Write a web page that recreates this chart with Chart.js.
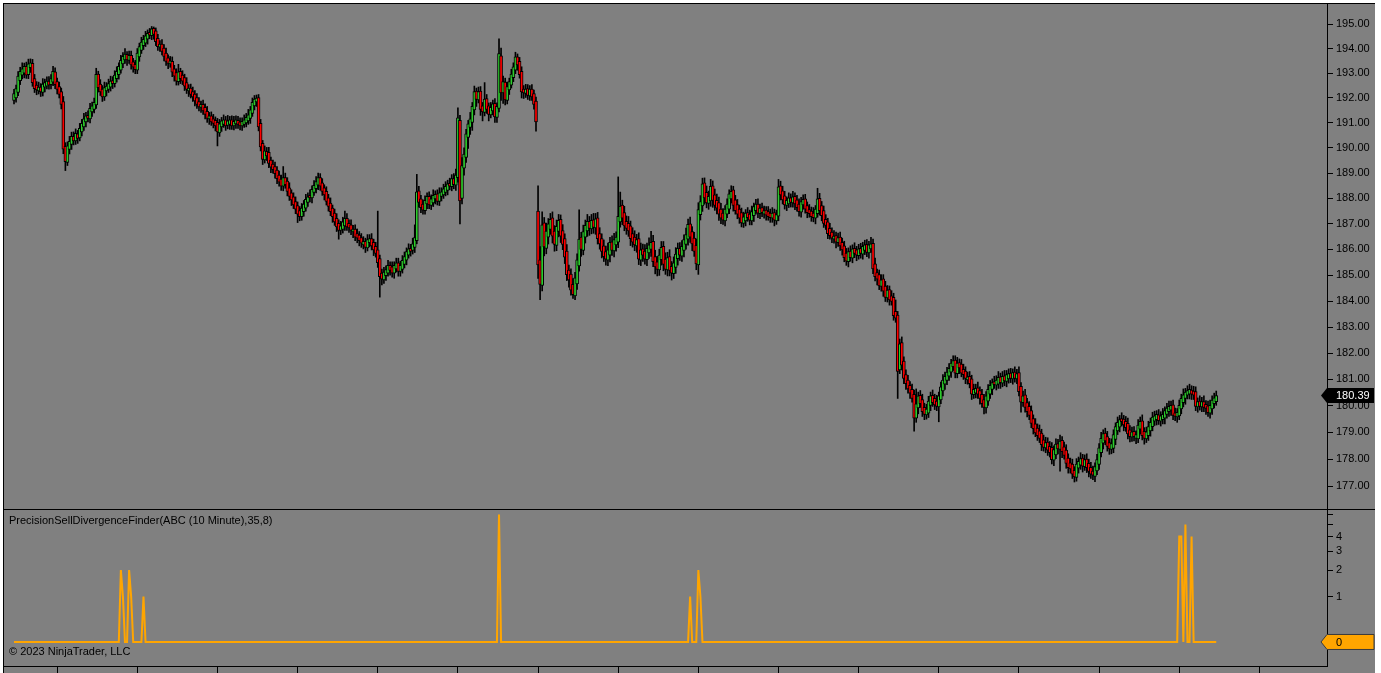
<!DOCTYPE html>
<html>
<head>
<meta charset="utf-8">
<title>ABC (10 Minute)</title>
<script src="https://cdn.jsdelivr.net/npm/chart.js@4.4.1/dist/chart.umd.min.js"></script>
<style>
  body { margin: 0; background: #fff; }
  #frame { position: absolute; left: 3px; top: 3px; width: 1372px; height: 670px; background: #808080;
           border-left: 1px solid #000; border-top: 1px solid #000; box-sizing: border-box; }
  #split { position: absolute; left: 3px; top: 509px; width: 1372px; height: 1px; background: #000; }
  canvas { position: absolute; left: 0; }
  #price { top: 0; }
  #ind { top: 509px; }
</style>
</head>
<body>
<div id="frame"></div>
<div id="split"></div>
<canvas id="price" width="1381" height="510"></canvas>
<canvas id="ind" width="1381" height="164"></canvas>
<script>
// ABC 10 minute bars (bar 255 opens the gap down)
const opens = [
  191.90,192.00,192.22,192.70,192.92,193.00,193.28,192.94,193.22,193.40,
  192.78,192.52,192.28,192.44,192.22,192.44,192.48,192.68,192.54,192.64,
  193.06,192.66,192.46,192.26,191.86,190.06,189.42,189.94,190.14,190.46,
  190.28,190.56,190.40,190.64,190.84,191.04,191.30,191.16,191.44,191.54,
  191.72,192.96,192.56,192.36,192.04,192.28,192.34,192.44,192.70,192.58,
  192.78,192.94,193.12,193.38,193.54,193.76,193.52,193.72,193.46,193.36,
  193.12,193.66,193.92,194.12,194.22,194.38,194.66,194.52,194.82,194.72,
  194.42,194.06,194.18,194.02,193.82,193.62,193.38,193.48,193.18,193.02,
  192.66,193.08,192.92,192.82,192.62,192.28,192.40,192.26,192.16,192.02,
  191.86,191.62,191.74,191.62,191.46,191.16,191.28,191.16,191.10,191.02,
  190.60,190.84,190.94,191.12,190.90,190.94,191.12,190.88,190.96,191.10,
  191.04,190.88,190.94,191.00,191.08,191.18,191.38,191.68,191.84,192.02,
  190.98,190.18,189.52,189.86,189.82,189.52,189.36,189.26,189.12,188.92,
  188.76,188.48,188.82,188.68,188.42,188.22,188.06,187.88,187.72,187.52,
  187.28,187.48,187.62,187.84,188.12,188.02,188.24,188.38,188.52,188.82,
  188.62,188.42,188.28,188.02,187.82,187.62,187.42,187.22,187.02,186.74,
  186.78,186.92,187.22,187.02,186.96,186.68,186.80,186.62,186.56,186.46,
  186.18,186.32,186.06,186.26,186.42,186.28,186.12,185.98,185.64,185.08,
  184.82,184.98,185.08,185.38,185.32,185.08,185.24,185.48,185.14,185.22,
  185.42,185.58,185.78,186.04,185.96,186.08,186.34,188.30,187.98,187.78,
  187.52,187.78,188.08,187.72,187.82,187.98,188.18,187.88,188.08,188.14,
  188.24,188.32,188.60,188.46,188.78,188.52,188.82,191.10,188.00,189.20,
  189.62,190.42,190.82,191.02,191.52,192.28,191.92,192.28,191.68,191.42,
  191.98,191.68,191.32,191.48,191.78,191.22,191.58,193.70,192.20,192.64,
  191.90,192.32,192.52,192.82,193.12,193.66,193.48,193.08,192.36,192.18,
  192.38,192.08,192.36,192.18,191.88,
  187.50,185.60,184.60,187.04,186.04,186.48,186.78,187.24,186.72,186.16,
  186.70,187.18,186.74,186.42,185.94,185.20,185.04,184.64,184.20,184.66,
  185.36,186.48,185.96,186.48,186.72,187.10,186.80,187.16,186.84,187.24,
  186.62,186.42,186.14,185.92,185.58,185.78,186.30,185.94,186.18,186.28,
  187.08,187.74,187.44,187.10,187.02,186.92,186.62,186.48,186.14,186.42,
  185.58,186.02,185.94,185.60,185.86,186.00,186.32,185.72,185.52,185.20,
  185.60,186.12,185.62,185.20,185.72,185.34,185.06,185.30,185.64,186.04,
  185.74,185.96,186.20,186.40,187.00,186.70,186.44,186.16,185.40,187.36,
  187.70,188.62,188.24,187.80,187.90,188.50,188.14,187.92,187.84,187.58,
  187.42,187.12,187.38,187.58,187.98,188.34,187.94,187.76,187.58,187.44,
  187.02,187.12,187.44,187.38,187.12,187.32,187.52,187.78,187.40,187.64,
  187.38,187.54,187.48,187.42,187.22,187.44,187.12,187.30,188.50,188.30,
  188.10,187.72,187.78,188.02,187.82,188.08,187.94,187.78,187.46,187.74,
  187.98,187.72,187.56,187.50,187.42,187.22,187.40,188.00,187.72,187.52,
  187.18,187.08,186.82,186.68,186.40,186.54,186.26,186.48,186.28,186.14,
  185.86,185.52,185.94,185.66,186.04,185.98,185.76,186.04,185.82,185.96,
  186.20,185.86,186.02,186.24,185.44,185.10,185.02,184.56,184.86,184.58,
  184.12,184.44,184.20,184.14,183.60,183.46,181.36,182.40,181.70,181.18,
  180.98,180.78,180.62,180.44,179.54,179.92,180.40,180.24,179.94,179.66,
  179.72,180.02,180.40,180.28,180.18,179.96,180.22,180.56,180.82,180.96,
  181.12,181.28,181.48,181.74,181.22,181.64,181.58,181.38,181.32,180.98,
  181.12,181.02,180.42,180.48,180.68,180.58,180.44,180.24,179.92,180.18,
  180.44,180.62,180.92,180.78,180.82,181.10,180.86,181.14,180.92,181.02,
  181.24,181.02,181.28,181.02,181.26,180.74,180.12,180.42,180.12,179.98,
  179.82,179.52,179.32,179.16,179.06,178.98,178.72,178.42,178.64,178.48,
  178.44,177.96,178.16,178.58,178.36,178.70,178.46,178.34,178.04,177.86,
  177.82,177.58,177.32,177.66,177.78,178.04,177.72,178.00,177.84,177.70,
  177.56,177.36,177.56,177.80,178.24,178.60,178.98,178.84,178.62,178.36,
  178.40,178.74,179.06,179.20,179.52,179.50,179.42,179.34,179.10,178.82,
  179.04,178.78,178.76,179.12,179.44,179.04,178.76,178.88,179.06,179.22,
  179.42,179.48,179.66,179.42,179.48,179.54,179.68,179.78,179.84,180.04,
  179.74,179.58,179.62,179.88,180.12,180.28,180.40,180.44,180.60,180.56,
  180.54,179.96,180.18,179.96,180.16,180.06,180.00,179.72,179.88,180.08,180.16
];
const highs = [
  192.35,192.52,193.07,193.24,193.42,193.41,193.45,193.57,193.58,193.56,
  192.95,192.66,192.64,192.58,192.78,192.76,192.85,192.86,192.94,193.28,
  193.22,192.80,192.64,192.40,192.06,190.21,190.24,190.46,190.63,190.64,
  190.76,190.70,190.98,191.14,191.38,191.42,191.48,191.78,191.84,192.00,
  193.20,193.08,192.74,192.50,192.64,192.62,192.76,192.88,192.86,193.10,
  193.26,193.42,193.72,193.84,194.00,193.88,193.90,193.90,193.60,193.52,
  194.00,194.22,194.46,194.54,194.70,194.76,194.82,194.90,194.88,194.84,
  194.58,194.32,194.36,194.16,194.02,193.74,193.68,193.66,193.32,193.18,
  193.36,193.20,193.10,192.96,192.82,192.54,192.56,192.44,192.30,192.18,
  192.02,191.88,191.92,191.76,191.66,191.42,191.44,191.34,191.24,191.18,
  191.14,191.22,191.32,191.26,191.30,191.26,191.28,191.26,191.28,191.26,
  191.20,191.20,191.32,191.38,191.54,191.66,192.00,192.10,192.12,192.14,
  191.14,190.30,190.08,190.02,190.02,189.64,189.52,189.44,189.26,189.08,
  188.92,189.26,189.00,188.82,188.62,188.34,188.22,188.06,187.86,187.68,
  187.80,187.92,188.16,188.22,188.34,188.50,188.70,188.86,189.00,188.98,
  188.78,188.54,188.46,188.16,188.02,187.74,187.58,187.40,187.16,187.10,
  187.26,187.50,187.40,187.16,187.16,186.94,186.96,186.80,186.70,186.62,
  186.50,186.44,186.58,186.58,186.62,186.40,186.28,187.50,185.78,185.24,
  185.30,185.36,185.58,185.52,185.52,185.52,185.66,185.66,185.54,185.76,
  185.90,186.06,186.22,186.20,186.44,186.96,188.95,188.48,188.12,187.94,
  188.10,188.22,188.26,188.14,188.34,188.30,188.34,188.42,188.42,188.56,
  188.66,188.72,188.80,188.94,188.98,189.16,191.60,191.30,189.62,190.00,
  190.74,191.10,191.42,191.82,192.48,192.40,192.44,192.46,191.82,192.62,
  192.14,191.80,191.82,191.92,191.98,191.80,194.40,194.02,192.88,192.80,
  192.64,192.80,193.16,193.42,193.85,193.78,193.64,193.26,192.50,192.55,
  192.54,192.50,192.54,192.32,192.04,
  188.50,186.11,187.47,187.25,187.03,187.21,187.41,187.47,186.93,187.15,
  187.37,187.35,186.97,186.61,186.19,185.39,185.25,184.87,185.11,185.83,
  187.55,186.67,186.95,187.15,187.37,187.29,187.37,187.41,187.41,187.45,
  186.85,186.61,186.37,186.13,186.25,186.47,186.53,186.63,186.69,188.85,
  188.25,187.93,187.69,187.31,187.29,187.11,186.85,186.73,186.59,186.65,
  186.25,186.21,186.19,186.25,186.45,186.71,186.55,185.97,185.73,186.01,
  186.31,186.31,185.87,185.89,185.99,185.53,185.71,186.07,186.25,186.27,
  186.35,186.57,186.83,187.19,187.27,186.89,186.67,186.41,187.83,188.11,
  188.80,188.81,188.49,188.29,188.75,188.69,188.37,188.17,188.05,187.81,
  187.60,187.72,187.98,188.34,188.50,188.48,188.12,187.96,187.74,187.62,
  187.46,187.56,187.64,187.54,187.70,187.82,187.96,187.98,187.78,187.82,
  187.70,187.68,187.68,187.58,187.64,187.58,187.54,188.75,188.68,188.48,
  188.28,188.06,188.22,188.18,188.28,188.22,188.12,187.98,188.04,188.14,
  188.16,187.86,187.76,187.66,187.64,187.72,188.40,188.20,187.88,187.70,
  187.36,187.22,187.02,186.84,186.74,186.68,186.64,186.68,186.44,186.32,
  186.04,186.06,186.14,186.18,186.26,186.12,186.20,186.24,186.28,186.36,
  186.38,186.32,186.47,186.40,185.66,185.24,185.20,185.02,185.02,184.76,
  184.60,184.58,184.40,184.30,184.04,183.60,182.54,182.62,181.86,181.36,
  181.16,180.92,180.82,180.60,180.64,180.52,180.58,180.44,180.10,180.06,
  180.36,180.52,180.60,180.44,180.40,180.52,180.90,181.18,181.28,181.46,
  181.60,181.76,181.90,181.90,181.84,181.78,181.76,181.58,181.48,181.28,
  181.30,181.16,180.82,180.82,180.90,180.72,180.62,180.44,180.54,180.80,
  180.96,181.02,181.12,181.14,181.30,181.24,181.30,181.34,181.34,181.40,
  181.42,181.40,181.48,181.38,181.48,180.88,180.56,180.62,180.28,180.16,
  180.00,179.66,179.52,179.32,179.28,179.12,178.90,178.82,178.80,178.66,
  178.62,178.50,178.76,178.74,178.90,178.84,178.64,178.54,178.20,178.04,
  178.00,177.72,178.02,178.08,178.24,178.18,178.16,178.20,178.00,177.88,
  177.74,177.86,178.18,178.58,179.00,179.10,179.16,179.04,178.78,178.76,
  179.10,179.36,179.58,179.64,179.74,179.64,179.60,179.54,179.26,179.20,
  179.22,179.06,179.48,179.58,179.66,179.18,179.20,179.42,179.54,179.76,
  179.80,179.82,179.86,179.78,179.90,179.96,180.10,180.18,180.18,180.22,
  179.92,179.90,180.22,180.44,180.64,180.66,180.76,180.82,180.76,180.74,
  180.72,180.30,180.38,180.32,180.38,180.20,180.18,180.22,180.38,180.48,180.56
];
const lows = [
  191.76,191.83,192.09,192.54,192.77,192.81,192.79,192.78,193.03,192.47,
  192.22,192.13,192.16,192.06,192.08,192.24,192.36,192.35,192.36,192.50,
  192.38,192.16,192.00,191.56,189.77,189.10,189.30,189.76,189.94,190.12,
  190.14,190.18,190.28,190.48,190.70,190.84,191.04,191.00,191.26,191.40,
  191.58,192.24,192.10,191.86,191.90,192.08,192.22,192.28,192.38,192.44,
  192.64,192.76,193.00,193.22,193.40,193.32,193.40,193.16,193.04,192.98,
  192.98,193.48,193.80,193.96,194.08,194.18,194.40,194.36,194.38,194.12,
  193.92,193.88,193.74,193.50,193.32,193.18,193.24,192.86,192.68,192.52,
  192.52,192.58,192.54,192.30,192.18,192.06,192.00,191.86,191.68,191.58,
  191.48,191.42,191.34,191.16,191.02,190.94,190.90,190.80,190.68,190.08,
  190.46,190.66,190.82,190.70,190.76,190.74,190.74,190.72,190.78,190.78,
  190.72,190.70,190.82,190.84,190.94,190.98,191.26,191.52,191.66,190.68,
  189.88,189.34,189.40,189.50,189.22,189.02,189.00,188.80,188.58,188.48,
  188.32,188.30,188.40,188.10,187.92,187.72,187.60,187.40,187.05,187.12,
  187.14,187.30,187.50,187.68,187.86,187.82,188.12,188.22,188.34,188.32,
  188.12,187.94,187.74,187.50,187.32,187.06,186.94,186.70,186.40,186.58,
  186.64,186.74,186.74,186.66,186.58,186.46,186.34,186.26,186.14,186.08,
  186.02,185.88,185.94,186.10,185.98,185.76,185.70,185.30,184.15,184.62,
  184.68,184.80,184.96,185.00,184.92,184.88,185.12,184.96,184.96,185.08,
  185.28,185.40,185.66,185.74,185.82,185.88,186.22,187.66,187.44,187.38,
  187.38,187.60,187.60,187.56,187.68,187.78,187.74,187.72,187.90,188.00,
  188.10,188.14,188.34,188.30,188.38,188.32,188.64,187.00,187.78,188.92,
  189.42,189.98,190.54,190.70,191.32,191.66,191.80,191.30,191.08,191.28,
  191.38,191.08,191.20,191.32,191.02,191.02,191.44,191.90,191.78,191.72,
  191.76,192.14,192.40,192.66,192.98,193.12,192.80,192.00,191.98,192.02,
  191.94,191.90,191.90,191.55,190.67,
  184.87,184.05,184.39,185.75,185.83,186.21,186.59,186.25,185.93,185.95,
  186.49,186.27,185.99,185.45,184.79,184.53,184.23,184.10,184.05,184.45,
  185.15,185.73,185.79,186.25,186.51,186.55,186.61,186.63,186.59,186.21,
  186.01,185.67,185.53,185.39,185.37,185.51,185.77,185.71,185.93,186.07,
  186.87,186.97,186.73,186.59,186.51,186.15,186.09,185.95,185.89,185.41,
  185.37,185.53,185.43,185.37,185.65,185.73,185.33,185.05,184.97,184.99,
  185.39,185.17,185.03,184.97,184.97,184.81,184.87,185.07,185.39,185.57,
  185.53,185.71,186.01,186.17,186.27,185.95,185.73,185.21,185.03,187.15,
  187.49,187.77,187.63,187.57,187.69,187.65,187.53,187.39,187.13,187.01,
  186.98,186.92,187.24,187.40,187.82,187.50,187.38,187.20,187.02,186.88,
  186.86,186.92,187.10,186.96,186.96,187.10,187.38,187.24,187.20,187.28,
  187.22,187.14,187.14,187.06,187.06,186.92,186.98,187.12,187.94,187.78,
  187.58,187.52,187.64,187.66,187.66,187.56,187.50,187.30,187.26,187.58,
  187.42,187.24,187.26,187.10,187.08,187.00,187.26,187.34,187.12,186.86,
  186.78,186.42,186.40,186.26,186.24,186.06,186.12,185.96,185.78,185.52,
  185.38,185.32,185.54,185.48,185.68,185.56,185.62,185.66,185.62,185.80,
  185.72,185.66,185.88,185.06,184.78,184.62,184.44,184.38,184.18,183.98,
  183.96,183.84,183.84,183.26,183.18,180.28,181.22,181.36,180.84,180.62,
  180.48,180.28,180.14,179.05,179.38,179.70,179.94,179.60,179.48,179.50,
  179.56,179.82,179.98,179.86,179.82,179.40,180.08,180.38,180.62,180.80,
  180.96,181.08,181.34,181.06,181.06,181.22,181.10,181.00,180.84,180.82,
  180.68,180.24,180.28,180.30,180.28,180.06,179.94,179.70,179.72,180.02,
  180.28,180.42,180.66,180.60,180.66,180.66,180.72,180.76,180.72,180.86,
  180.88,180.82,180.90,180.84,180.38,179.76,179.98,179.76,179.58,179.48,
  179.18,178.94,178.84,178.70,178.62,178.32,178.30,178.24,178.14,178.08,
  177.82,177.76,178.02,178.20,177.55,178.06,178.00,177.66,177.48,177.48,
  177.28,177.15,177.18,177.48,177.62,177.52,177.58,177.50,177.34,177.28,
  177.24,177.16,177.42,177.62,178.08,178.38,178.54,178.30,178.18,178.20,
  178.24,178.54,178.92,179.02,179.24,179.06,179.04,178.76,178.64,178.66,
  178.68,178.58,178.62,178.94,178.72,178.56,178.62,178.70,178.86,179.06,
  179.26,179.28,179.30,179.24,179.32,179.32,179.54,179.60,179.64,179.48,
  179.44,179.38,179.48,179.70,179.96,180.06,180.26,180.26,180.24,180.24,
  179.82,179.76,179.84,179.78,179.78,179.68,179.60,179.54,179.68,179.92,180.02
];
const closes = [
  192.18,192.38,192.88,193.08,193.18,193.28,192.92,193.38,193.42,192.62,
  192.38,192.32,192.44,192.24,192.56,192.62,192.68,192.52,192.78,193.08,
  192.54,192.34,192.14,191.74,189.95,189.45,190.08,190.26,190.46,190.28,
  190.58,190.38,190.78,190.98,191.16,191.28,191.18,191.58,191.68,191.82,
  192.95,192.42,192.24,192.04,192.42,192.48,192.58,192.68,192.58,192.92,
  193.08,193.28,193.52,193.68,193.78,193.54,193.72,193.34,193.24,193.14,
  193.82,194.08,194.26,194.38,194.52,194.62,194.54,194.80,194.58,194.28,
  194.08,194.18,193.88,193.68,193.48,193.40,193.50,193.04,192.88,192.68,
  193.06,192.78,192.68,192.48,192.34,192.40,192.14,192.04,191.88,191.74,
  191.64,191.74,191.48,191.34,191.18,191.28,191.04,190.98,190.88,190.64,
  190.96,191.08,191.12,190.88,191.08,191.12,190.88,191.06,191.12,190.94,
  190.88,191.06,191.12,191.22,191.32,191.52,191.82,191.96,192.00,190.84,
  190.04,189.54,189.88,189.68,189.38,189.24,189.14,188.98,188.78,188.64,
  188.48,188.82,188.54,188.28,188.08,187.94,187.74,187.58,187.38,187.28,
  187.62,187.78,187.96,188.06,188.02,188.36,188.52,188.66,188.82,188.48,
  188.28,188.14,187.88,187.68,187.48,187.28,187.08,186.88,186.74,186.92,
  187.08,187.22,186.88,186.84,186.74,186.80,186.48,186.44,186.34,186.24,
  186.32,186.08,186.38,186.42,186.14,185.98,185.84,185.48,184.94,184.84,
  185.12,185.22,185.38,185.18,185.08,185.38,185.48,185.14,185.38,185.58,
  185.72,185.92,186.02,185.92,186.22,186.46,188.26,187.84,187.64,187.54,
  187.92,188.08,187.74,187.98,188.12,188.16,187.88,188.22,188.26,188.38,
  188.48,188.58,188.48,188.78,188.54,188.92,191.20,187.90,189.30,189.76,
  190.56,190.96,191.16,191.66,192.26,191.94,192.26,191.54,191.44,191.96,
  191.54,191.34,191.62,191.76,191.24,191.66,193.80,192.20,192.66,191.92,
  192.46,192.66,192.96,193.26,193.66,193.34,192.94,192.24,192.20,192.36,
  192.10,192.36,192.04,191.74,191.04,
  185.40,184.64,186.96,186.10,186.72,187.00,187.18,186.52,186.20,186.90,
  187.14,186.52,186.20,185.70,185.02,184.82,184.42,184.24,184.90,185.60,
  186.40,186.00,186.70,186.94,187.10,186.82,187.14,186.86,187.20,186.42,
  186.22,185.92,185.72,185.62,185.98,186.28,185.96,186.38,186.48,187.30,
  187.70,187.22,186.92,186.82,186.72,186.42,186.28,186.18,186.38,185.62,
  185.98,185.78,185.62,186.04,186.18,186.28,185.52,185.32,185.22,185.78,
  186.08,185.42,185.22,185.68,185.18,185.08,185.48,185.82,186.04,185.78,
  186.12,186.38,186.58,186.98,186.48,186.22,185.92,185.44,187.56,187.88,
  188.58,188.02,187.82,188.08,188.48,187.92,187.72,187.62,187.38,187.22,
  187.14,187.58,187.78,188.18,188.28,187.72,187.52,187.38,187.22,187.04,
  187.28,187.42,187.24,187.14,187.48,187.68,187.78,187.42,187.62,187.44,
  187.52,187.34,187.28,187.24,187.42,187.14,187.36,188.46,188.14,187.94,
  187.74,187.92,188.02,187.84,188.06,187.78,187.64,187.48,187.88,187.96,
  187.58,187.44,187.40,187.28,187.24,187.58,187.98,187.52,187.32,187.02,
  186.94,186.62,186.54,186.44,186.52,186.28,186.46,186.14,185.98,185.68,
  185.54,185.92,185.68,186.02,185.84,185.78,186.02,185.84,186.12,186.18,
  185.88,186.18,186.22,185.24,184.94,184.84,184.58,184.82,184.38,184.14,
  184.42,184.04,183.98,183.44,183.34,181.30,182.36,181.54,181.04,180.84,
  180.64,180.48,180.28,179.54,180.08,180.38,180.08,179.78,179.68,179.88,
  180.18,180.38,180.12,180.04,179.98,180.38,180.72,180.98,181.12,181.28,
  181.42,181.62,181.72,181.24,181.62,181.44,181.24,181.18,181.04,181.10,
  180.84,180.44,180.62,180.66,180.44,180.28,180.08,179.94,180.38,180.62,
  180.78,180.88,180.80,180.98,181.08,180.88,181.12,180.94,181.18,181.22,
  181.04,181.26,181.04,181.22,180.54,180.14,180.38,179.94,179.78,179.64,
  179.34,179.14,178.98,178.88,178.78,178.54,178.44,178.62,178.34,178.24,
  177.98,178.36,178.56,178.38,178.68,178.28,178.14,177.84,177.68,177.64,
  177.44,177.34,177.82,177.92,178.02,177.74,177.98,177.68,177.54,177.44,
  177.40,177.72,177.98,178.42,178.78,178.96,178.68,178.48,178.38,178.58,
  178.92,179.22,179.38,179.48,179.40,179.28,179.18,178.94,178.84,179.02,
  178.84,178.92,179.28,179.42,178.88,178.78,179.02,179.22,179.38,179.58,
  179.62,179.68,179.44,179.62,179.68,179.82,179.92,179.98,180.02,179.64,
  179.60,179.76,180.02,180.28,180.42,180.52,180.58,180.62,180.44,180.40,
  179.98,180.16,179.98,180.16,179.94,179.90,179.74,180.02,180.22,180.30,180.39
];

// price scale labels
const priceTicks = [177, 178, 179, 180, 181, 182, 183, 184, 185, 186, 187, 188, 189, 190, 191, 192, 193, 194, 195];

// PrecisionSellDivergenceFinder: bars with a signal, every other bar is 0
const signalBars = [52, 53, 56, 57, 63, 236, 329, 333, 334, 567, 568, 570, 573];
const signalValues = [2, 1, 2, 1, 1, 6, 1, 2, 1, 4, 4, 5, 4];
const signalTicks = [0, 1, 2, 3, 4, 5, 6];
const signalLabels = ["", "1", "2", "3", "4", "", ""];

// first bar of each session (time axis tick marks)
const sessionBars = [21, 60, 99, 138, 177, 216, 255, 294, 333, 372, 411, 450, 489, 528, 567, 606];

const indicatorName = "PrecisionSellDivergenceFinder(ABC (10 Minute),35,8)";
const copyrightText = "\u00a9 2023 NinjaTrader, LLC";

const UP = "#2ecc2e";
const DOWN = "#ff0000";
const FONT = '"Liberation Sans", Arial, sans-serif';

// visible bar range, the right side is left empty like the platform does
const X_MIN = -4.87;
const X_MAX = 638.9;

Chart.defaults.font.family = FONT;
Chart.defaults.font.size = 11;
Chart.defaults.color = "#000";

var bodyData = closes.map((c, i) => ({ x: i, y: [opens[i], c] }));
var wickData = closes.map((c, i) => ({ x: i, y: [lows[i], highs[i]] }));
var bodyColors = closes.map((c, i) => (c >= opens[i] ? UP : DOWN));

var signal = closes.map(() => 0);
signalBars.forEach((b, k) => { signal[b] = signalValues[k]; });
// log(1 + v) scale, so the line is drawn on v + 1
var signalData = signal.map((v, i) => ({ x: i, y: v + 1 }));

// no extra room for the first / last tick label, the axis fills the panel
function noLabelPadding(s) {
  s.paddingTop = 0;
  s.paddingBottom = 0;
  s.paddingLeft = 0;
  s.paddingRight = 0;
}

function drawTag(ctx, y, fill, stroke, textColor, text) {
  var tip = 1321, left = 1327, right = 1374, h = 7.5;
  ctx.save();
  ctx.beginPath();
  ctx.moveTo(tip, y);
  ctx.lineTo(left, y - h);
  ctx.lineTo(right, y - h);
  ctx.lineTo(right, y + h);
  ctx.lineTo(left, y + h);
  ctx.closePath();
  ctx.fillStyle = fill;
  ctx.fill();
  if (stroke) {
    ctx.strokeStyle = stroke;
    ctx.lineWidth = 1;
    ctx.stroke();
  }
  ctx.fillStyle = textColor;
  ctx.font = "11px " + FONT;
  ctx.textBaseline = "middle";
  ctx.fillText(text, 1336, y + 0.5);
  ctx.restore();
}

const lastPriceTag = {
  id: "lastPriceTag",
  afterDraw(chart) {
    var last = closes[closes.length - 1];
    var y = chart.scales.y.getPixelForValue(last);
    drawTag(chart.ctx, y, "#000", null, "#fff", last.toFixed(2));
  },
};

const indicatorText = {
  id: "indicatorText",
  afterDraw(chart) {
    var ctx = chart.ctx;
    ctx.save();
    ctx.fillStyle = "#000";
    ctx.font = "11px " + FONT;
    ctx.textBaseline = "middle";
    ctx.fillText(indicatorName, 9, 12);
    ctx.fillText(copyrightText, 9, 143);
    ctx.restore();
    var last = signal[signal.length - 1];
    var y = chart.scales.y.getPixelForValue(last + 1);
    drawTag(ctx, y, "#ffa500", "#3a3a3a", "#000", String(last));
  },
};

// price panel
new Chart(document.getElementById("price"), {
  type: "bar",
  data: {
    datasets: [
      {
        data: bodyData,
        backgroundColor: bodyColors,
        borderColor: "#000",
        borderWidth: 1,
        borderSkipped: false,
        barThickness: 3,
        grouped: false,
        order: 0,
      },
      {
        data: wickData,
        backgroundColor: "#000",
        borderWidth: 0,
        barThickness: 1,
        grouped: false,
        order: 1,
      },
    ],
  },
  options: {
    responsive: false,
    animation: false,
    events: [],
    layout: { padding: { left: 4, top: 4, right: 6, bottom: 1 } },
    plugins: { legend: { display: false }, tooltip: { enabled: false } },
    scales: {
      x: { type: "linear", min: X_MIN, max: X_MAX, display: false, offset: false },
      y: {
        type: "logarithmic",
        position: "right",
        min: 176.15,
        max: 195.82,
        afterBuildTicks: (s) => { s.ticks = priceTicks.map((v) => ({ value: v })); },
        afterFit: (s) => { s.width = 48; noLabelPadding(s); },
        grid: { drawOnChartArea: false, color: "#000", tickLength: 6 },
        border: { display: true, color: "#000" },
        ticks: { color: "#000", padding: 3, autoSkip: false, callback: (v) => Number(v).toFixed(2) },
      },
    },
  },
  plugins: [lastPriceTag],
});

// indicator panel
new Chart(document.getElementById("ind"), {
  type: "line",
  data: {
    datasets: [
      {
        data: signalData,
        borderColor: "#ffa500",
        borderWidth: 2,
        pointRadius: 0,
        tension: 0,
        fill: false,
      },
    ],
  },
  options: {
    responsive: false,
    animation: false,
    events: [],
    layout: { padding: { left: 4, top: 1, right: 6, bottom: 0 } },
    plugins: { legend: { display: false }, tooltip: { enabled: false } },
    scales: {
      x: {
        type: "linear",
        min: X_MIN,
        max: X_MAX,
        offset: false,
        afterBuildTicks: (s) => { s.ticks = sessionBars.map((v) => ({ value: v })); },
        afterFit: (s) => { s.height = 7; noLabelPadding(s); },
        grid: { drawOnChartArea: false, color: "#000", tickLength: 7 },
        border: { display: true, color: "#000" },
        ticks: { display: false },
      },
      y: {
        type: "logarithmic",
        position: "right",
        min: 0.693,
        max: 7.5,
        afterBuildTicks: (s) => { s.ticks = signalTicks.map((v) => ({ value: v + 1 })); },
        afterFit: (s) => { s.width = 48; noLabelPadding(s); },
        grid: { drawOnChartArea: false, color: "#000", tickLength: 6 },
        border: { display: true, color: "#000" },
        ticks: {
          color: "#000",
          padding: 3,
          autoSkip: false,
          callback: (v) => signalLabels[signalTicks.indexOf(Math.round(v) - 1)] || "",
        },
      },
    },
  },
  plugins: [indicatorText],
});
</script>
</body>
</html>
